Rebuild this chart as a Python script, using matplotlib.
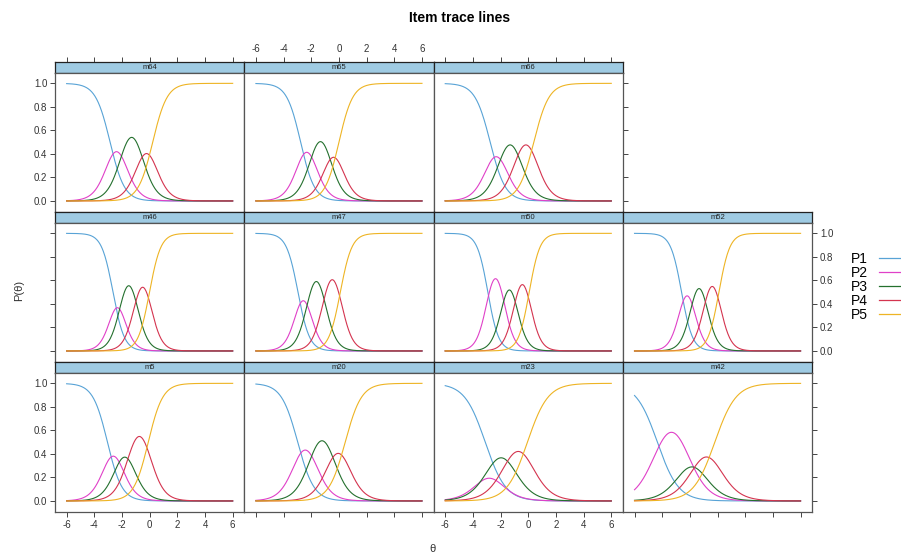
import numpy as np
import matplotlib.pyplot as plt
from matplotlib.lines import Line2D

plt.rcParams['font.family'] = ['Liberation Sans Narrow', 'Liberation Sans', 'DejaVu Sans']
plt.rcParams['axes.unicode_minus'] = False

# items in panel order (top row first), as laid out in the reference
items = ["m64", "m65", "m66", "m46", "m47", "m50", "m52", "m5", "m20", "m23", "m42"]
rows = [0, 0, 0, 1, 1, 1, 1, 2, 2, 2, 2]
cols = [0, 1, 2, 0, 1, 2, 3, 0, 1, 2, 3]

# graded response parameters estimated from the traced curves
slopes = [1.92, 2.00, 1.82, 2.45, 2.40, 2.58, 2.54, 1.91, 1.70, 1.35, 1.31]
thresholds = [
    [-2.86, -1.93, -0.67, 0.22],
    [-2.77, -1.89, -0.78, 0.00],
    [-2.75, -1.88, -0.74, 0.40],
    [-2.65, -2.02, -1.00, -0.01],
    [-2.96, -2.20, -1.07, 0.10],
    [-2.92, -1.81, -0.92, 0.07],
    [-2.60, -1.80, -0.87, 0.10],
    [-3.05, -2.21, -1.39, -0.10],
    [-2.98, -1.89, -0.56, 0.45],
    [-3.11, -2.53, -1.39, -0.06],
    [-4.35, -2.31, -1.40, -0.20],
]

categories = ["P1", "P2", "P3", "P4", "P5"]
colors = ["#58a3d6", "#e040c8", "#24702e", "#d4344f", "#eeb424"]

xticks = [-6, -4, -2, 0, 2, 4, 6]
yticks = [0.0, 0.2, 0.4, 0.6, 0.8, 1.0]

theta = np.linspace(-6, 6, 300)


def trace_lines(a, b):
    cum = [np.ones_like(theta)]
    for bk in b:
        cum.append(1 / (1 + np.exp(-a * (theta - bk))))
    cum.append(np.zeros_like(theta))
    return [cum[k] - cum[k + 1] for k in range(len(b) + 1)]


W, H = 901, 556
fig = plt.figure(figsize=(W / 100, H / 100), dpi=100)

pw, ph, sh = 189.3, 139, 11
edge = "#555555"
tick_kw = dict(direction="out", length=3.5, width=0.7, colors="#444444",
               labelsize=7, labelcolor="#333333", pad=2)

for i, name in enumerate(items):
    r, c = rows[i], cols[i]
    left = 55 + c * pw
    top = 62 + r * 150
    last_col = 2 if r == 0 else 3

    strip = fig.add_axes([left / W, 1 - (top + sh) / H, pw / W, sh / H])
    strip.set_facecolor("#9fcbe3")
    strip.set_xlim(-6.84, 6.84)
    strip.set_yticks([])
    strip.set_xticks(xticks)
    strip.tick_params(axis="x", **tick_kw)
    strip.tick_params(bottom=False, labelbottom=False, top=(r == 0),
                      labeltop=(r == 0 and c == 1))
    strip.text(0.5, 0.5, name, transform=strip.transAxes, ha="center",
               va="center", fontsize=5.5, color="#222222")
    for s in strip.spines.values():
        s.set_color("#222222")
        s.set_linewidth(0.9)

    ax = fig.add_axes([left / W, 1 - (top + sh + ph) / H, pw / W, ph / H])
    for k, p in enumerate(trace_lines(slopes[i], thresholds[i])):
        ax.plot(theta, p, color=colors[k], lw=0.8)
    ax.set_xlim(-6.84, 6.84)
    ax.set_ylim(-0.094, 1.088)
    ax.set_xticks(xticks)
    ax.set_yticks(yticks)
    ax.set_yticklabels([f"{v:.1f}" for v in yticks])
    ax.tick_params(**tick_kw)
    ax.tick_params(left=(c == 0), labelleft=(c == 0 and r != 1),
                   right=(c == last_col), labelright=(c == last_col and r == 1),
                   bottom=(r == 2), labelbottom=(r == 2 and c in (0, 2)),
                   top=False)
    for s in ax.spines.values():
        s.set_color(edge)
        s.set_linewidth(0.9)

fig.text(460 / W, 1 - 18 / H, "Item trace lines", ha="center", va="center",
         fontsize=10, fontweight="bold")
fig.text(19 / W, 1 - 290 / H, "P(\u03b8)", ha="center", va="center",
         rotation=90, fontsize=8, color="#333333")
fig.text(432 / W, 1 - 549 / H, "\u03b8", ha="center", va="center",
         fontsize=8, color="#333333")

handles = [Line2D([], [], color=colors[k], lw=0.9) for k in range(5)]
fig.legend(handles, categories, loc="center left",
           bbox_to_anchor=(838 / W, 1 - 287 / H), frameon=False,
           markerfirst=False, handlelength=3.0, handletextpad=0.8,
           labelspacing=0.0,
           prop={"family": ["Liberation Sans", "DejaVu Sans"], "size": 10})

fig.savefig("out.png", dpi=100)
